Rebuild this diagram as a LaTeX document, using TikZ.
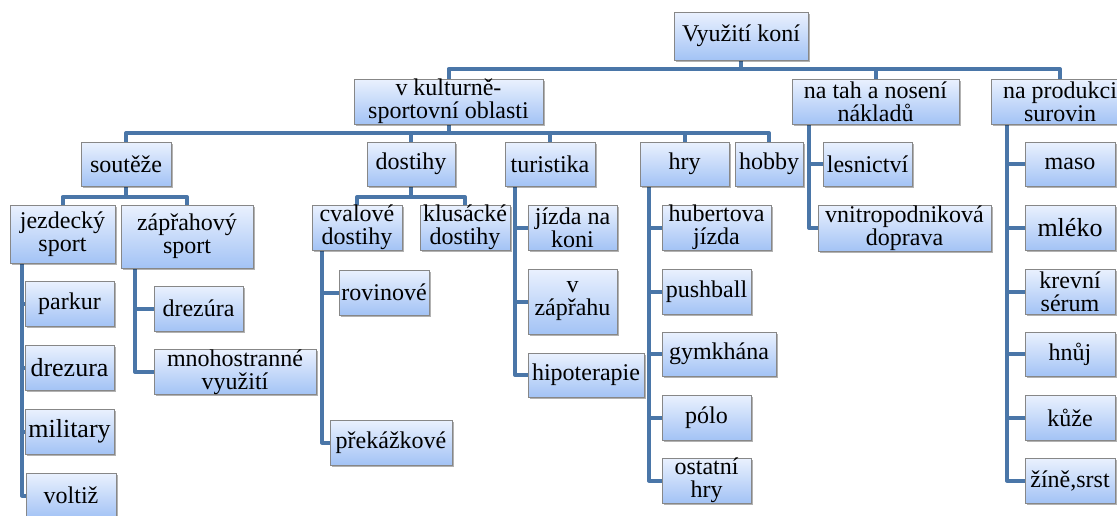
\documentclass[tikz,border=0pt]{standalone}
\usepackage{fontspec}
\setmainfont{Liberation Serif}
\usetikzlibrary{shadows}
\definecolor{conncol}{RGB}{74,118,168}
\definecolor{boxtop}{RGB}{234,241,254}
\definecolor{boxbot}{RGB}{163,195,245}
\definecolor{boxline}{RGB}{135,135,135}
\pgfdeclarelayer{bg}
\pgfsetlayers{bg,main}
\newcommand\hbx[7][]{%
  \pgfmathsetmacro\hbxw{#5-#3}%
  \pgfmathsetmacro\hbxh{#6-#4}%
  \pgfmathsetmacro\hbxx{(#3+#5)/2}%
  \pgfmathsetmacro\hbxy{(#4+#6)/2}%
  \node[box,minimum width=\hbxw pt,minimum height=\hbxh pt,#1] (#2) at (\hbxx,\hbxy) {#7};}
\tikzset{
  box/.style={draw=boxline, line width=0.8pt, top color=boxtop, bottom color=boxbot,
    inner sep=0pt, outer sep=0pt, align=center, text=black,
    font=\fontsize{24}{23}\selectfont,
    drop shadow={shadow xshift=1.5pt,shadow yshift=-1.8pt,fill=black,opacity=0.3}},
  big/.style={font=\fontsize{26}{25}\selectfont},
  conn/.style={draw=conncol, line width=4pt, line join=round}
}
\begin{document}
\begin{tikzpicture}[x=1pt,y=-1pt]
\useasboundingbox (0,0) rectangle (1117,515);
\begin{pgfonlayer}{bg}
\fill[white] (0,0) rectangle (1117,515);
\end{pgfonlayer}
\clip (0,0) rectangle (1117,515);
\coordinate (b1) at (0,69);
\coordinate (b2) at (0,133);
\coordinate (b3) at (0,197);
% level 0-1
\hbx{root}{674}{12}{808}{60}{Využití koní}
\hbx{kult}{354}{79}{543}{124}{v kulturně-\\sportovní oblasti}
\hbx{tah}{792}{79}{959}{124}{na tah a nosení\\nákladů}
\hbx{prod}{991}{79}{1129}{124}{na produkci\\surovin}
% level 2
\hbx{sout}{81}{142}{171}{186}{soutěže}
\hbx{dost}{367}{142}{455}{186}{dostihy}
\hbx{tur}{505}{142}{595}{186}{turistika}
\hbx{hry}{640}{142}{729}{186}{hry}
\hbx{hob}{735}{142}{803}{186}{hobby}
\hbx{les}{823}{142}{912}{186}{lesnictví}
\hbx{vnit}{818}{205}{991}{251}{vnitropodniková\\doprava}
\hbx{maso}{1025}{142}{1115}{186}{maso}
\hbx[big]{mleko}{1025}{205}{1115}{250}{mléko}
\hbx{krev}{1025}{269}{1115}{314}{krevní\\sérum}
\hbx{hnuj}{1025}{332}{1115}{376}{hnůj}
\hbx{kuze}{1025}{395}{1115}{440}{kůže}
\hbx{zine}{1025}{458}{1115}{503}{žíně,srst}
% level 3
\hbx{jezd}{10}{205}{115}{263}{jezdecký\\sport}
\hbx{zapr}{121}{205}{253}{268}{zápřahový\\sport}
\hbx{cval}{312}{205}{402}{250}{cvalové\\dostihy}
\hbx{klus}{420}{205}{510}{250}{klusácké\\dostihy}
\hbx{jizda}{528}{205}{617}{250}{jízda na\\koni}
\hbx{hub}{662}{205}{771}{250}{hubertova\\jízda}
% leaves
\hbx{parkur}{25}{281}{114}{326}{parkur}
\hbx[big]{drezura}{25}{345}{114}{390}{drezura}
\hbx[big]{military}{25}{409}{114}{454}{military}
\hbx{voltiz}{26}{473}{116}{518}{voltiž}
\hbx{drezura2}{154}{286}{243}{331}{drezúra}
\hbx{mnoho}{154}{350}{316}{394}{mnohostranné\\využití}
\hbx{rovin}{339}{270}{429}{315}{rovinové}
\hbx{prek}{330}{420}{452}{465}{překážkové}
\hbx{vzapr}{528}{269}{617}{334}{v\\zápřahu}
\hbx{hipo}{528}{353}{644}{397}{hipoterapie}
\hbx{push}{662}{269}{751}{314}{pushball}
\hbx{gym}{662}{332}{776}{376}{gymkhána}
\hbx{polo}{662}{395}{751}{440}{pólo}
\hbx{ostat}{662}{458}{751}{503}{ostatní\\hry}
% connectors
\begin{pgfonlayer}{bg}
\draw[conn] (root.south) -- (root.south |- b1);
\draw[conn] (kult.north) |- (prod.north |- b1) -- (prod.north);
\draw[conn] (tah.north) -- (tah.north |- b1);
\draw[conn] (kult.south) -- (kult.south |- b2);
\draw[conn] (sout.north) |- (hob.north |- b2) -- (hob.north);
\draw[conn] (dost.north) -- (dost.north |- b2);
\draw[conn] (tur.north) -- (tur.north |- b2);
\draw[conn] (hry.north) -- (hry.north |- b2);
\draw[conn] (sout.south) -- (sout.south |- b3);
\draw[conn] (jezd.north) |- (zapr.north |- b3) -- (zapr.north);
\draw[conn] (dost.south) -- (dost.south |- b3);
\draw[conn] (cval.north) |- (klus.north |- b3) -- (klus.north);
% jezdecky sport
\draw[conn] ([xshift=12pt]jezd.south west) |- (voltiz.west);
\foreach \c in {parkur,drezura,military} \draw[conn] ([xshift=12pt]jezd.south west) |- (\c.west);
% zaprahovy sport
\draw[conn] ([xshift=14pt]zapr.south west) |- (mnoho.west);
\draw[conn] ([xshift=14pt]zapr.south west) |- (drezura2.west);
% cvalove dostihy
\draw[conn] ([xshift=10pt]cval.south west) |- (prek.west);
\draw[conn] ([xshift=10pt]cval.south west) |- (rovin.west);
% turistika
\draw[conn] ([xshift=10pt]tur.south west) |- (hipo.west);
\foreach \c in {jizda,vzapr} \draw[conn] ([xshift=10pt]tur.south west) |- (\c.west);
% hry
\draw[conn] ([xshift=9pt]hry.south west) |- (ostat.west);
\foreach \c in {hub,push,gym,polo} \draw[conn] ([xshift=9pt]hry.south west) |- (\c.west);
% na tah
\draw[conn] ([xshift=17pt]tah.south west) |- (vnit.west);
\draw[conn] ([xshift=17pt]tah.south west) |- (les.west);
% na produkci
\draw[conn] ([xshift=16pt]prod.south west) |- (zine.west);
\foreach \c in {maso,mleko,krev,hnuj,kuze} \draw[conn] ([xshift=16pt]prod.south west) |- (\c.west);
\end{pgfonlayer}
\end{tikzpicture}
\end{document}
